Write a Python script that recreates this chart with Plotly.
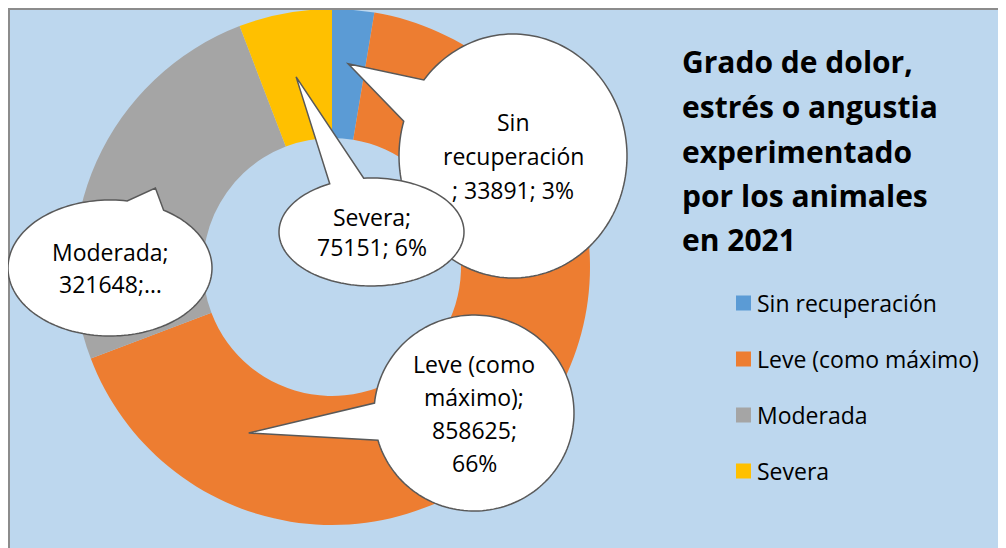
import numpy as np
import plotly.graph_objects as go

# ---------------- data ----------------
categories = ["Sin recuperación", "Leve (como máximo)", "Moderada", "Severa"]
values = [33891, 858625, 321648, 75151]
colors = ["#5B9BD5", "#ED7D31", "#A5A5A5", "#FFC000"]
label_lines = [
    ["Sin", "recuperación", "; 33891; 3%"],
    ["Leve (como", "máximo);", "858625;", "66%"],
    ["Moderada;", "321648;…"],
    ["Severa;", "75151; 6%"],
]
title_lines = ["Grado de dolor,", "estrés o angustia", "experimentado",
               "por los animales", "en 2021"]

# ---------------- layout helpers ----------------
# The page body has an 8px margin, so the figure starts at page (8, 8).
OFF = 8
W, H = 1006 - OFF, 548 - OFF
def px(x):          # x given in page pixels
    return (x - OFF) / W
def py(y):          # y given in page pixels
    return 1 - (y - OFF) / H

FONT = "Open Sans"
CX, CY, R = 332, 267, 258     # donut centre / outer radius (page px)
HOLE = 0.5

fig = go.Figure()
fig.add_trace(go.Pie(
    labels=categories, values=values, sort=False, direction="clockwise",
    rotation=0, hole=HOLE, textinfo="none", hoverinfo="none",
    marker=dict(colors=colors, line=dict(width=0)), showlegend=False,
    domain=dict(x=[px(CX - R), px(CX + R)], y=[py(CY + R), py(CY - R)]),
))

shapes = []
annotations = []

# grey chart-area border (left and top)
shapes.append(dict(type="line", xref="paper", yref="paper", x0=px(9), x1=px(9), y0=0, y1=1,
                   line=dict(color="#8C8C8C", width=2), layer="above"))
shapes.append(dict(type="line", xref="paper", yref="paper", x0=0, x1=1, y0=py(9), y1=py(9),
                   line=dict(color="#8C8C8C", width=2), layer="above"))

# slice mid angles (degrees clockwise from 12 o'clock) from data
total = float(sum(values))
cum = np.cumsum([0] + values[:-1]) / total * 360
mids = cum + np.array(values) / total * 180

# callout geometry: (centre x, centre y, rx, ry, tip angle offset, tip radius frac, line pitch)
callouts = [
    (513, 156, 114, 122, -0.2, 0.79, 34),   # Sin recuperación
    (474, 413, 100, 98, 77.3, 0.72, 33),    # Leve
    (110, 268, 102, 68, 0.0, 0.75, 32),     # Moderada
    (371.5, 232, 92.5, 54, -0.2, 0.75, 30), # Severa
]
draw_order = [2, 0, 3, 1]

def bubble(cx, cy, rx, ry, tx, ty, delta=11):
    th = np.degrees(np.arctan2((ty - cy) / ry, (tx - cx) / rx))
    ts = np.radians(np.linspace(th + delta, th + 360 - delta, 160))
    xs = cx + rx * np.cos(ts)
    ys = cy + ry * np.sin(ts)
    p = "M {:.5f},{:.5f}".format(px(tx), py(ty))
    for x, y in zip(xs, ys):
        p += " L {:.5f},{:.5f}".format(px(x), py(y))
    return p + " Z"

for i in draw_order:
    cx, cy, rx, ry, off, rf, pitch = callouts[i]
    ang = np.radians(mids[i] + off)
    tx = CX + rf * R * np.sin(ang)
    ty = CY - rf * R * np.cos(ang)
    shapes.append(dict(type="path", xref="paper", yref="paper", path=bubble(cx, cy, rx, ry, tx, ty),
                       fillcolor="white", line=dict(color="#595959", width=1.5), layer="above"))
    lines = label_lines[i]
    n = len(lines)
    for k, t in enumerate(lines):
        yy = cy + (k - (n - 1) / 2) * pitch
        annotations.append(dict(xref="paper", yref="paper", x=px(cx), y=py(yy), text=t,
                                showarrow=False, xanchor="center", yanchor="middle",
                                font=dict(family=FONT, size=23, color="black")))

# title
for k, t in enumerate(title_lines):
    annotations.append(dict(xref="paper", yref="paper", x=px(680), y=py(62 + k * 44.5), text="<b>%s</b>" % t,
                            showarrow=False, xanchor="left", yanchor="middle",
                            font=dict(family=FONT, size=30, color="black")))

# manual legend
for k, (c, name) in enumerate(zip(colors, categories)):
    yc = 303 + k * 56
    shapes.append(dict(type="rect", xref="paper", yref="paper", x0=px(736), x1=px(751),
                       y0=py(yc + 7.5), y1=py(yc - 7.5), fillcolor=c, line=dict(width=0), layer="above"))
    annotations.append(dict(xref="paper", yref="paper", x=px(755), y=py(yc), text=name,
                            showarrow=False, xanchor="left", yanchor="middle",
                            font=dict(family=FONT, size=23, color="black")))

fig.update_layout(
    width=W, height=H, margin=dict(l=0, r=0, t=0, b=0),
    paper_bgcolor="#BDD7EE", plot_bgcolor="#BDD7EE",
    shapes=shapes, annotations=annotations, showlegend=False,
)
fig.write_html("out.html")
